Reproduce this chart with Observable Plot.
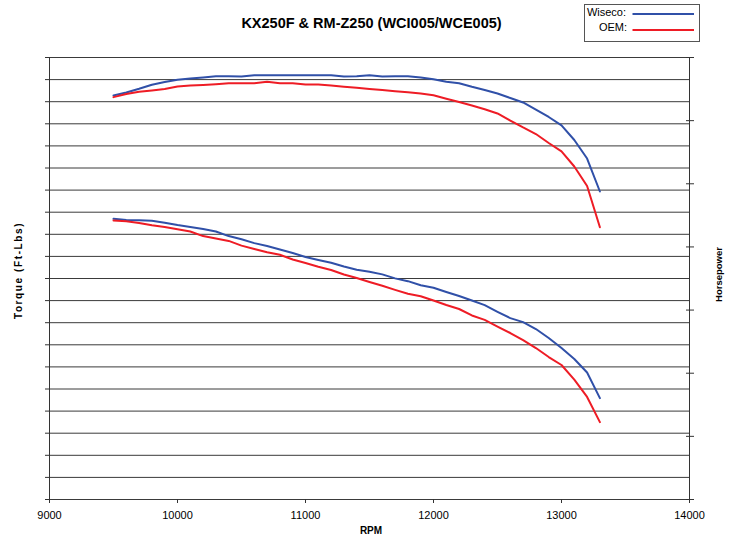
<!DOCTYPE html>
<html>
<head>
<meta charset="utf-8">
<script src="https://cdn.jsdelivr.net/npm/d3@7"></script>
<script src="https://cdn.jsdelivr.net/npm/@observablehq/plot@0.6"></script>
<style>
  html, body { margin: 0; padding: 0; background: #fff; }
  #wrap { position: relative; width: 731px; height: 537px; font-family: "Liberation Sans", Arial, sans-serif; }
  #legend { position: absolute; left: 584px; top: 4px; width: 116px; height: 38px; border: 1px solid #555; box-sizing: border-box; background: #fff; }
</style>
</head>
<body>
<div id="wrap"></div>
<script>
// ---- data ----
const rpm = [9500, 9600, 9700, 9800, 9900, 10000, 10100, 10200, 10300, 10400,
             10500, 10600, 10700, 10800, 10900, 11000, 11100, 11200, 11300, 11400,
             11500, 11600, 11700, 11800, 11900, 12000, 12100, 12200, 12300, 12400,
             12500, 12600, 12700, 12800, 12900, 13000, 13100, 13200, 13300];

// Horsepower (right axis)
const hpWiseco = [31.99, 32.23, 32.52, 32.84, 33.06, 33.24, 33.34, 33.42, 33.51, 33.51,
                  33.50, 33.59, 33.60, 33.60, 33.60, 33.60, 33.60, 33.59, 33.50, 33.51,
                  33.60, 33.50, 33.51, 33.52, 33.42, 33.27, 33.08, 32.96, 32.68, 32.43,
                  32.15, 31.79, 31.44, 30.88, 30.29, 29.62, 28.47, 27.00, 24.39];
const hpOEM = [31.86, 32.11, 32.29, 32.39, 32.51, 32.70, 32.78, 32.82, 32.88, 32.96,
               32.97, 32.97, 33.08, 32.97, 32.97, 32.86, 32.86, 32.78, 32.69, 32.60,
               32.51, 32.42, 32.33, 32.24, 32.15, 32.01, 31.74, 31.48, 31.20, 30.90,
               30.57, 30.01, 29.46, 28.94, 28.23, 27.56, 26.37, 24.82, 21.56];

// Torque (left axis)
const tqWiseco = [19.05, 18.97, 18.95, 18.92, 18.79, 18.63, 18.50, 18.36, 18.19, 17.88,
                  17.66, 17.40, 17.21, 16.97, 16.73, 16.46, 16.26, 16.07, 15.81, 15.60,
                  15.46, 15.28, 15.01, 14.82, 14.54, 14.37, 14.08, 13.81, 13.51, 13.19,
                  12.74, 12.31, 12.04, 11.57, 10.96, 10.28, 9.54, 8.62, 6.88];
const tqOEM = [18.94, 18.89, 18.77, 18.62, 18.50, 18.35, 18.19, 17.88, 17.71, 17.55,
               17.23, 17.00, 16.78, 16.61, 16.29, 16.05, 15.80, 15.58, 15.27, 15.03,
               14.76, 14.51, 14.23, 13.97, 13.80, 13.51, 13.20, 12.93, 12.49, 12.19,
               11.74, 11.30, 10.82, 10.28, 9.67, 9.13, 8.14, 6.96, 5.25];

const xTicks = [9000, 10000, 11000, 12000, 13000, 14000];
const tqTicks = [0, 1.5, 3, 4.5, 6, 7.5, 9, 10.5, 12, 13.5, 15, 16.5, 18, 19.5, 21, 22.5, 24, 25.5, 27, 28.5, 30];
const hpTicks = [0, 5, 10, 15, 20, 25, 30, 35];
const TQ_MAX = 30, HP_MAX = 35;

const seriesNames = ["Wiseco:", "OEM:"];
const seriesColors = ["#3050a8", "#ee1c25"];

const title = "KX250F & RM-Z250 (WCI005/WCE005)";
const xLabel = "RPM";
const yLabelLeft = "Torque (Ft-Lbs)";
const yLabelRight = "Horsepower";

// ---- build tables ----
const hpToTq = v => v * TQ_MAX / HP_MAX;
const rows = [];
rpm.forEach((r, i) => {
  rows.push({rpm: r, v: hpToTq(hpWiseco[i]), s: "hpW"});
  rows.push({rpm: r, v: hpToTq(hpOEM[i]), s: "hpO"});
  rows.push({rpm: r, v: tqWiseco[i], s: "tqW"});
  rows.push({rpm: r, v: tqOEM[i], s: "tqO"});
});
const colorOf = {hpW: seriesColors[0], tqW: seriesColors[0], hpO: seriesColors[1], tqO: seriesColors[1]};
const font = "Liberation Sans, Arial, sans-serif";

const chart = Plot.plot({
  width: 731,
  height: 537,
  marginLeft: 49,
  marginRight: 42,
  marginTop: 57,
  marginBottom: 38,
  style: {fontFamily: font, background: "#fff", color: "#000", overflow: "visible"},
  x: {domain: [9000, 14000]},
  y: {domain: [0, TQ_MAX]},
  marks: [
    Plot.ruleY(tqTicks, {stroke: "#3a3a3a", strokeWidth: 1}),
    Plot.ruleX([9000, 14000], {stroke: "#333", strokeWidth: 1}),
    Plot.axisY({ticks: tqTicks, tickSize: 4, tickFormat: () => "", label: null, stroke: "#333"}),
    Plot.axisY({anchor: "right", ticks: hpTicks.map(hpToTq), tickSize: 8, dx: -4, tickFormat: () => "", label: null, stroke: "#333"}),
    Plot.axisX({ticks: xTicks, tickSize: 4, tickPadding: 8, tickFormat: d => String(d), fontSize: 11, label: null, stroke: "#333"}),
    Plot.line(rows, {x: "rpm", y: "v", z: "s", stroke: d => colorOf[d.s], strokeWidth: 2, curve: "linear"}),
    Plot.text([title], {text: d => d, frameAnchor: "top", dx: 2, dy: -39.8, fontSize: 14.5, fontWeight: "bold"}),
    Plot.text([xLabel], {text: d => d, frameAnchor: "bottom", dx: 1.5, dy: 34, fontSize: 10, fontWeight: "bold"}),
    Plot.text([yLabelLeft], {text: d => d, frameAnchor: "left", textAnchor: "middle", dx: -31, dy: -8, rotate: -90, fontSize: 10, fontWeight: "bold"}),
    Plot.text([yLabelRight], {text: d => d, frameAnchor: "right", textAnchor: "middle", dx: 29, dy: -4, rotate: -90, fontSize: 9.5, fontWeight: "bold"})
  ]
});

d3.select(chart).selectAll("text").filter(function () { return this.textContent === yLabelLeft; })
  .style("letter-spacing", "1.6px");

const wrap = document.getElementById("wrap");
wrap.appendChild(chart);

// legend
const leg = document.createElement("div");
leg.id = "legend";
leg.innerHTML = `<svg width="116" height="38" style="position:absolute;left:-1px;top:-1px;overflow:visible;font-family:${font}">
  <text x="42" y="12" text-anchor="end" font-size="11">${seriesNames[0]}</text>
  <line x1="48.5" x2="110" y1="10" y2="10" stroke="${seriesColors[0]}" stroke-width="2"/>
  <text x="43" y="27" text-anchor="end" font-size="11">${seriesNames[1]}</text>
  <line x1="48.5" x2="110" y1="26" y2="26" stroke="${seriesColors[1]}" stroke-width="2"/>
</svg>`;
wrap.appendChild(leg);
</script>
</body>
</html>
